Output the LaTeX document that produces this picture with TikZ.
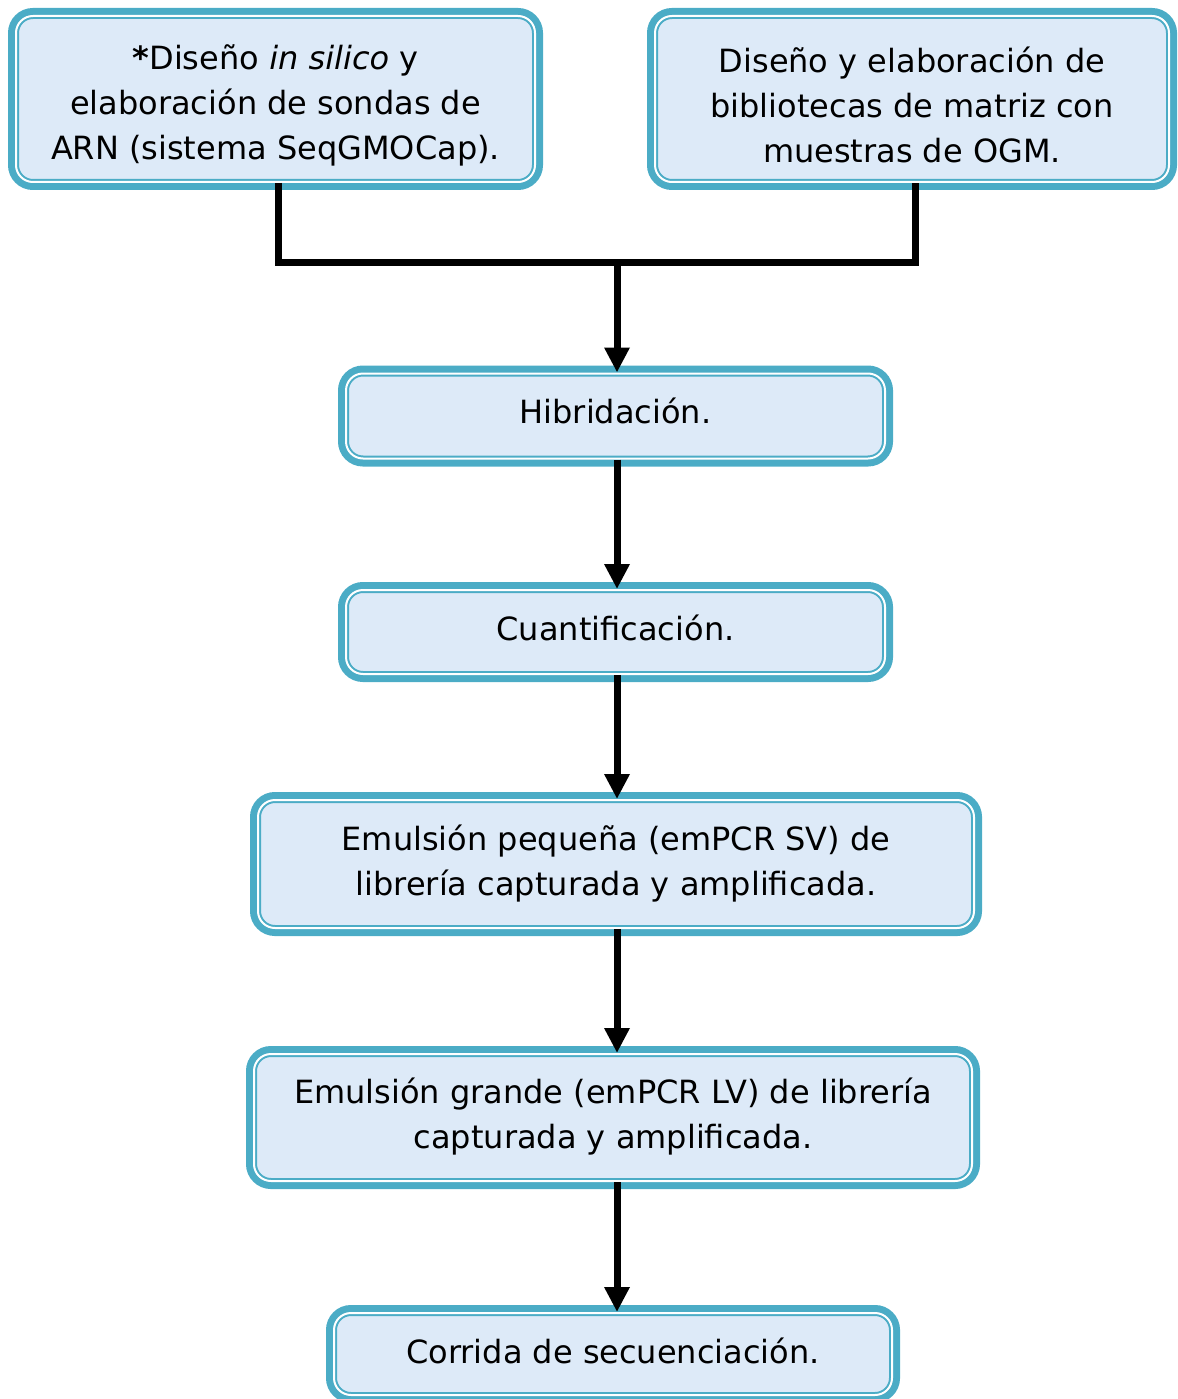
\documentclass[tikz,border=0pt]{standalone}
\usepackage{fontspec}
\setmainfont{DejaVu Sans}
\usetikzlibrary{arrows.meta}
\definecolor{tealb}{RGB}{75,172,198}
\definecolor{fillb}{RGB}{221,234,248}
\tikzset{
  x=1pt,y=-1pt,
  box/.style={rectangle, rounded corners=17pt, fill=fillb,
    draw=tealb, line width=2pt, double=white, double distance=2pt,
    preaction={draw=tealb, line width=16pt, rounded corners=17pt},
    inner sep=0pt},
  txt/.style={align=center, inner sep=0pt, text=black,
    font=\fontsize{32}{45}\selectfont},
  link/.style={line width=7pt, draw=black},
  arr/.style={line width=7pt, draw=black, -{Triangle[width=24pt,length=25pt]}}
}
\begin{document}
\begin{tikzpicture}
\useasboundingbox (0,0) rectangle (1177,1399);
\node[box, minimum width=519pt, minimum height=166pt] (b1) at (275.5,99) {};
\node[box, minimum width=514pt, minimum height=166pt] (b2) at (912,99) {};
\node[box, minimum width=539pt, minimum height=85pt] (b3) at (615.5,416) {};
\node[box, minimum width=539pt, minimum height=84pt] (b4) at (615.5,632) {};
\node[box, minimum width=716pt, minimum height=128pt] (b5) at (616,864) {};
\node[box, minimum width=718pt, minimum height=127pt] (b6) at (613,1117.5) {};
\node[box, minimum width=558pt, minimum height=82pt] (b7) at (613,1354) {};
\node[txt] (t1) at ([yshift=-6pt]b1.center)
  {\textbf{*}Diseño \textit{in silico} y\\elaboración de sondas de\\ARN (sistema SeqGMOCap).};
\node[txt] (t2) at ([yshift=-6pt]b2.center)
  {Diseño y elaboración de\\bibliotecas de matriz con\\muestras de OGM.};
\node[txt] (t3) at ([yshift=5pt]b3.center) {Hibridación.};
\node[txt] (t4) at ([yshift=4pt]b4.center) {Cuantificación.};
\node[txt] (t5) at ([yshift=0pt]b5.center)
  {Emulsión pequeña (emPCR SV) de\\librería capturada y amplificada.};
\node[txt] (t6) at ([yshift=1pt]b6.center)
  {Emulsión grande (emPCR LV) de librería\\capturada y amplificada.};
\node[txt] (t7) at ([yshift=3pt]b7.center) {Corrida de secuenciación.};
\coordinate (jl) at (278,262);
\coordinate (jr) at (915,262);
\coordinate (jc) at (617,262);
\coordinate (ax) at (617,0);
\draw[link] (b1.south -| jl) -- (jl) -- (jr) -- (b2.south -| jr);
\draw[arr] (jc) -- (b3.north -| jc);
\draw[arr] (b3.south -| ax) -- (b4.north -| ax);
\draw[arr] (b4.south -| ax) -- (b5.north -| ax);
\draw[arr] (b5.south -| ax) -- (b6.north -| ax);
\draw[arr] (b6.south -| ax) -- (b7.north -| ax);
\end{tikzpicture}
\end{document}
